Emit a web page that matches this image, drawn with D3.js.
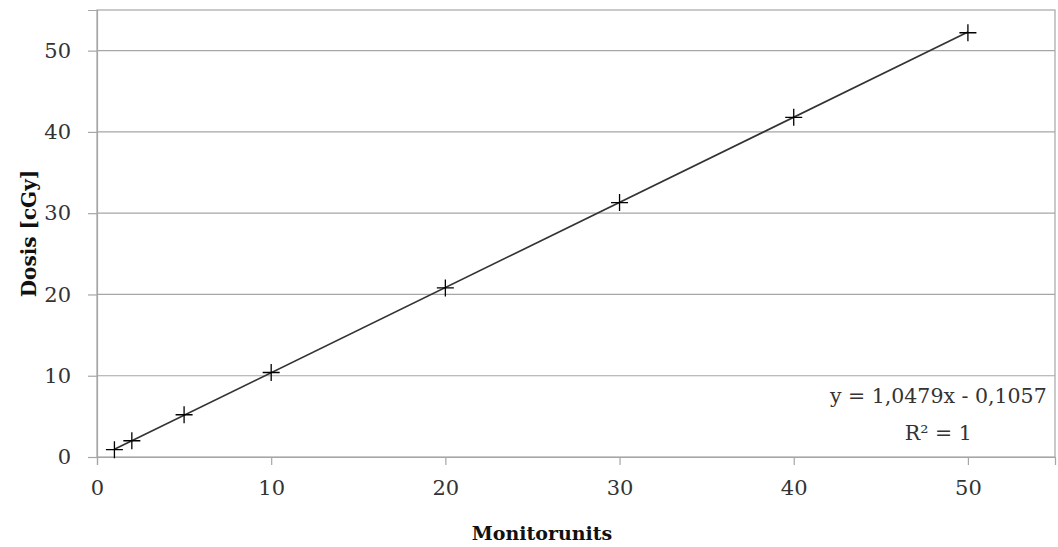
<!DOCTYPE html>
<html>
<head>
<meta charset="utf-8">
<script src="https://cdn.jsdelivr.net/npm/d3@7"></script>
<style>
  body { margin: 0; background: #fff; }
  svg text { font-family: "Palatino Linotype", "Book Antiqua", "DejaVu Serif", serif; fill: #333; }
  .axisLabel { font-weight: bold; fill: #111; }
</style>
</head>
<body>
<svg id="chart" width="1058" height="547"></svg>
<script>
const monitorUnits = [1, 2, 5, 10, 20, 30, 40, 50];
const doseValues = [0.9, 2.0, 5.2, 10.4, 20.8, 31.3, 41.8, 52.2];
const xTicks = [0, 10, 20, 30, 40, 50];
const yTicks = [0, 10, 20, 30, 40, 50];
const fitSlope = 1.0479;
const fitIntercept = -0.1057;
const equationLines = ["y = 1,0479x - 0,1057", "R\u00b2 = 1"];

const svg = d3.select("#chart");
const margin = {top: 10, right: 3, bottom: 90, left: 97};
const width = 1058, height = 547;
const innerWidth = width - margin.left - margin.right;
const innerHeight = height - margin.top - margin.bottom;

const xScale = d3.scaleLinear().domain([0, 55]).range([0, innerWidth]);
const yScale = d3.scaleLinear().domain([0, 55]).range([innerHeight, 0]);

const g = svg.append("g")
    .attr("transform", `translate(${margin.left}, ${margin.top})`);

// gridlines
g.append("g")
    .selectAll("line")
    .data(yTicks.filter(d => d > 0))
    .enter()
    .append("line")
        .attr("x1", 0)
        .attr("x2", innerWidth)
        .attr("y1", d => yScale(d))
        .attr("y2", d => yScale(d))
        .attr("stroke", "#a6a6a6")
        .attr("stroke-width", 1.2);

// plot border
g.append("rect")
    .attr("x", 0)
    .attr("y", 0)
    .attr("width", innerWidth)
    .attr("height", innerHeight)
    .attr("fill", "none")
    .attr("stroke", "#a6a6a6")
    .attr("stroke-width", 1.2);

// axes
const yaxfunc = d3.axisLeft(yScale).tickValues(yTicks).tickSize(9).tickPadding(17);
const yaxis = g.append("g").call(yaxfunc).attr("font-family", null);
yaxis.select(".domain").attr("stroke", "#a6a6a6").attr("stroke-width", 1.2);
yaxis.selectAll(".tick line").attr("stroke", "#a6a6a6").attr("stroke-width", 1.2);
yaxis.selectAll("text").attr("font-size", 21).attr("fill", "#333");

const xaxfunc = d3.axisBottom(xScale).tickValues(xTicks).tickSize(8).tickPadding(15);
const xaxis = g.append("g")
    .attr("transform", `translate(0, ${innerHeight})`)
    .call(xaxfunc)
    .attr("font-family", null);
xaxis.select(".domain").attr("stroke", "#a6a6a6").attr("stroke-width", 1.2);
xaxis.selectAll(".tick line").attr("stroke", "#a6a6a6").attr("stroke-width", 1.2);
xaxis.selectAll("text").attr("font-size", 21).attr("fill", "#333");

// trend line
const fitX = d3.extent(monitorUnits);
g.append("path")
    .datum(fitX)
    .attr("fill", "none")
    .attr("stroke", "#333")
    .attr("stroke-width", 1.7)
    .attr("d", d3.line()
        .x(d => xScale(d))
        .y(d => yScale(fitSlope * d + fitIntercept)));

// plus markers
g.append("g")
    .selectAll("path")
    .data(monitorUnits)
    .enter()
    .append("path")
        .attr("transform", (d, i) => `translate(${xScale(d)}, ${yScale(doseValues[i])})`)
        .attr("d", "M-8.5,0H8.5M0,-8.5V8.5")
        .attr("stroke", "#000")
        .attr("stroke-width", 1.3)
        .attr("fill", "none");

// equation label
const eqX = xScale(48.3);
g.append("text")
    .attr("x", eqX)
    .attr("y", yScale(6.6))
    .attr("text-anchor", "middle")
    .attr("font-size", 20.5)
    .text(equationLines[0]);
g.append("text")
    .attr("x", eqX)
    .attr("y", yScale(2.1))
    .attr("text-anchor", "middle")
    .attr("font-size", 20.5)
    .text(equationLines[1]);

// axis titles
svg.append("text")
    .attr("class", "axisLabel")
    .attr("transform", `translate(36, ${margin.top + innerHeight / 2}) rotate(-90)`)
    .attr("text-anchor", "middle")
    .attr("font-size", 20)
    .text("Dosis [cGy]");

svg.append("text")
    .attr("class", "axisLabel")
    .attr("x", 542)
    .attr("y", 540)
    .attr("text-anchor", "middle")
    .attr("font-size", 19)
    .text("Monitorunits");
</script>
</body>
</html>
